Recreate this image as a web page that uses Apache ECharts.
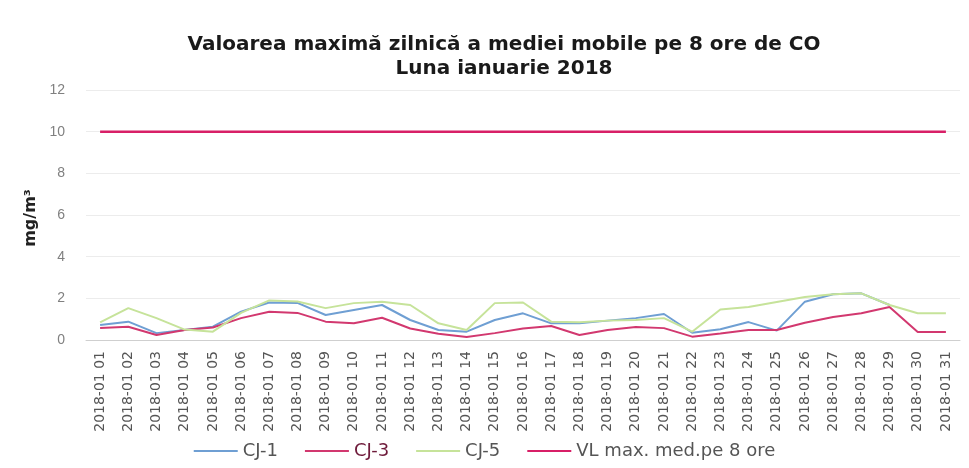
<!DOCTYPE html>
<html>
<head>
<meta charset="utf-8">
<script src="https://cdn.jsdelivr.net/npm/echarts@6/dist/echarts.min.js"></script>
<style>
  html, body { margin: 0; padding: 0; background: #fff; }
  #chart { width: 969px; height: 468px; }
</style>
</head>
<body>
<div id="chart"></div>
<script>
// zilele lunii
var days = [];
for (var d = 1; d <= 31; d++) {
  days.push("2018-01 " + (d < 10 ? "0" + d : "" + d));
}

var yTicks = [0, 2, 4, 6, 8, 10, 12];

// valori (mg/m3)
var cj1 = [0.72, 0.88, 0.33, 0.48, 0.64, 1.36, 1.8, 1.78, 1.2, 1.44, 1.68, 0.96, 0.48, 0.4, 0.96, 1.28,
  0.8, 0.8, 0.93, 1.05, 1.25, 0.35, 0.52, 0.86, 0.45, 1.84, 2.2, 2.24, 1.68, null, null];
var cj3 = [0.58, 0.64, 0.24, 0.48, 0.6, 1.05, 1.36, 1.3, 0.88, 0.8, 1.07, 0.55, 0.3, 0.14, 0.33, 0.55,
  0.67, 0.24, 0.48, 0.62, 0.57, 0.16, 0.31, 0.48, 0.48, 0.83, 1.1, 1.28, 1.58, 0.38, 0.38];
var cj5 = [0.85, 1.53, 1.05, 0.5, 0.4, 1.3, 1.9, 1.85, 1.53, 1.77, 1.84, 1.68, 0.8, 0.48, 1.77, 1.8,
  0.88, 0.85, 0.93, 0.96, 1.05, 0.4, 1.46, 1.58, 1.82, 2.06, 2.2, 2.24, 1.68, 1.28, 1.28];
var vl = [10, 10, 10, 10, 10, 10, 10, 10, 10, 10, 10, 10, 10, 10, 10, 10,
  10, 10, 10, 10, 10, 10, 10, 10, 10, 10, 10, 10, 10, 10, 10];

var myChart = echarts.init(document.getElementById("chart"));

function lineSeries(name, data, color, width) {
  return {
    name: name,
    type: "line",
    data: data,
    symbol: "none",
    smooth: false,
    connectNulls: false,
    lineStyle: { color: color, width: width },
    itemStyle: { color: color },
  };
}

var options = {
  backgroundColor: "#ffffff",
  animation: false,
  title: {
    text: "Valoarea maximă zilnică a mediei mobile pe 8 ore de CO\nLuna ianuarie 2018",
    left: 499,
    top: 28,
    textAlign: "center",
    textStyle: {
      fontFamily: "DejaVu Sans",
      fontSize: 20,
      fontWeight: "bold",
      color: "#1a1a1a",
      lineHeight: 24,
    },
  },
  legend: {
    bottom: 3,
    left: "center",
    itemWidth: 44,
    itemHeight: 8,
    itemGap: 27,
    icon: "path://M0,3 L44,3 L44,5 L0,5 Z",
    textStyle: {
      fontFamily: "DejaVu Sans",
      fontSize: 18,
      color: "#555",
    },
    data: [
      { name: "CJ-1" },
      { name: "CJ-3", textStyle: { color: "#6e1a3a" } },
      { name: "CJ-5" },
      { name: "VL max. med.pe 8 ore" },
    ],
  },
  grid: {
    left: 86,
    right: 9,
    top: 90,
    bottom: 128,
  },
  xAxis: {
    type: "category",
    data: days,
    boundaryGap: true,
    axisLine: { lineStyle: { color: "#cfcfcf" } },
    axisTick: { show: false },
    axisLabel: {
      rotate: 90,
      interval: 0,
      margin: 11,
      fontFamily: "DejaVu Sans",
      fontSize: 14,
      color: "#555",
    },
  },
  yAxis: {
    type: "value",
    min: yTicks[0],
    max: yTicks[yTicks.length - 1],
    interval: 2,
    name: "mg/m³",
    nameLocation: "middle",
    nameGap: 46,
    nameRotate: 90,
    nameTextStyle: {
      fontFamily: "DejaVu Sans",
      fontSize: 16,
      fontWeight: "bold",
      color: "#222",
      padding: [0, 6, 0, 0],
    },
    axisLine: { show: false },
    axisTick: { show: false },
    axisLabel: {
      margin: 21,
      fontFamily: "Liberation Sans",
      fontSize: 14,
      color: "#808080",
    },
    splitLine: { lineStyle: { color: "#ececec" } },
  },
  series: [
    lineSeries("CJ-1", cj1, "#6f9fd3", 2),
    lineSeries("CJ-3", cj3, "#d2386f", 2),
    lineSeries("CJ-5", cj5, "#c6e39a", 2),
    lineSeries("VL max. med.pe 8 ore", vl, "#d81f67", 2.5),
  ],
};

myChart.setOption(options, true);
</script>
</body>
</html>
